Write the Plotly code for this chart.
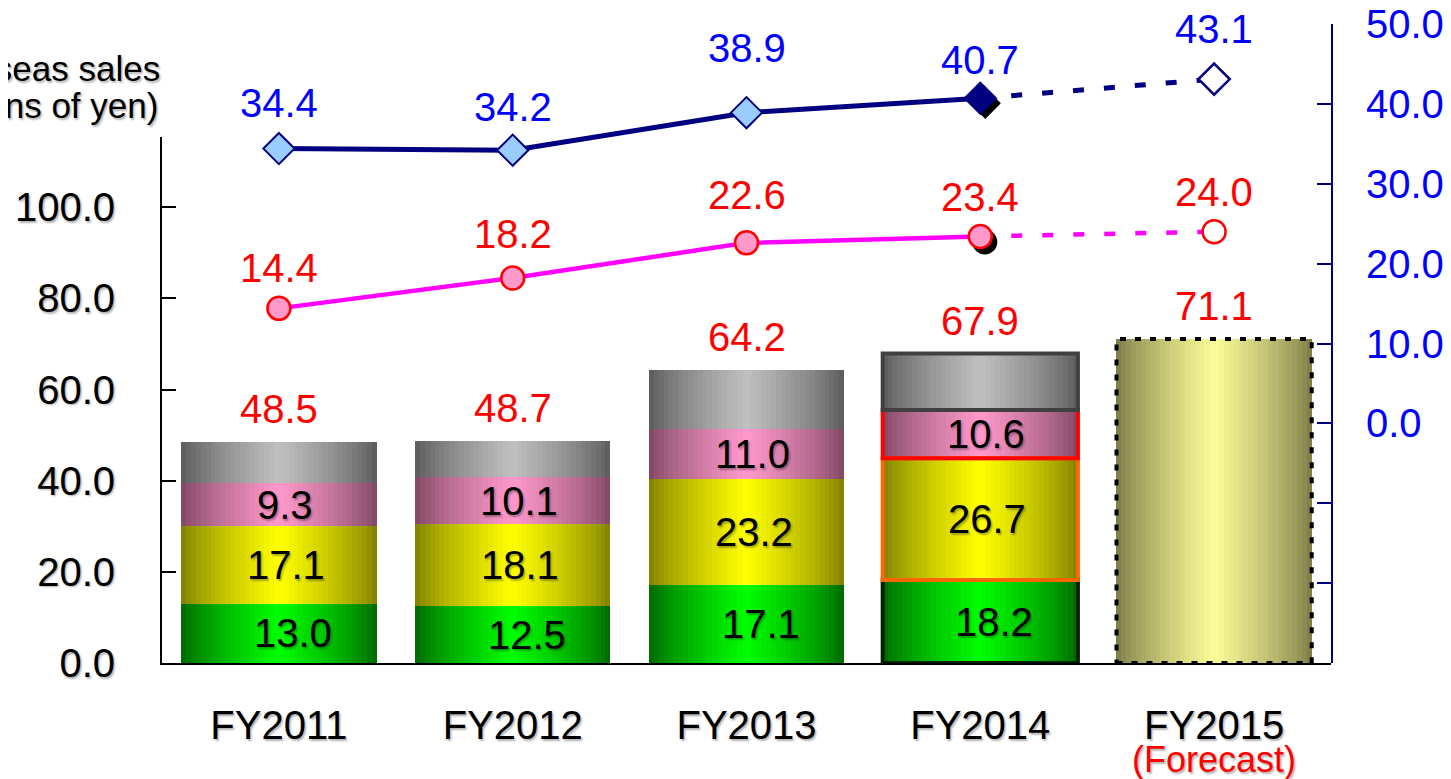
import plotly.graph_objects as go

# ── Data ──────────────────────────────────────────────────────────────────────
categories = ['FY2011', 'FY2012', 'FY2013', 'FY2014', 'FY2015']

seg_green = [13.0, 12.5, 17.1, 18.2]
seg_yellow = [17.1, 18.1, 23.2, 26.7]
seg_pink = [9.3, 10.1, 11.0, 10.6]
seg_other = [9.1, 8.0, 12.9, 12.4]
totals = [48.5, 48.7, 64.2, 67.9, 71.1]

line_navy = [34.4, 34.2, 38.9, 40.7, 43.1]
line_pink = [14.4, 18.2, 22.6, 23.4, 24.0]

# ── Styling ───────────────────────────────────────────────────────────────────
FONT = 'Liberation Sans, Arial, sans-serif'
SHADOW = '1.5px 1.5px 2px rgba(0,0,0,0.3)'
NAVY = '#000080'
BAR_W = 0.835
N_STRIPS = 40

# ( edge colour, centre colour ) for the horizontal gradients
GRAD_GREEN = ((0, 100, 0), (0, 255, 0))
GRAD_YELLOW = ((125, 125, 0), (255, 255, 0))
GRAD_PINK = ((125, 70, 95), (255, 153, 204))
GRAD_GRAY = ((88, 88, 88), (192, 192, 192))
GRAD_FCST = ((120, 120, 70), (252, 252, 152))

# label offsets (pixels above the marker)
navy_lab_dy = [46, 43, 65, 38, 50]
pink_lab_dy = [40, 44, 48, 39, 40]


def strip_color(grad, k):
    edge, center = grad
    t = (k + 0.5) / N_STRIPS
    u = (1 - abs(2 * t - 1)) ** 0.75
    c = [round(e + (m - e) * u) for e, m in zip(edge, center)]
    return f'rgb({c[0]},{c[1]},{c[2]})'


def add_gradient_bars(fig, xs, bases, heights, grad):
    sw = BAR_W / N_STRIPS
    for k in range(N_STRIPS):
        fig.add_trace(go.Bar(
            x=xs, y=heights, base=bases,
            width=sw, offset=-BAR_W / 2 + k * sw,
            marker=dict(color=strip_color(grad, k), line_width=0),
            showlegend=False, hoverinfo='skip', yaxis='y',
        ))


fig = go.Figure()

# ── Stacked bars (actuals) ────────────────────────────────────────────────────
idx = list(range(len(seg_green)))
layers = [
    (seg_green, GRAD_GREEN),
    (seg_yellow, GRAD_YELLOW),
    (seg_pink, GRAD_PINK),
    (seg_other, GRAD_GRAY),
]
bottom = [0.0] * len(idx)
layer_bases = []
for vals, grad in layers:
    add_gradient_bars(fig, idx, bottom, vals, grad)
    layer_bases.append(list(bottom))
    bottom = [b + v for b, v in zip(bottom, vals)]

# forecast bar
add_gradient_bars(fig, [4], [0], [totals[4]], GRAD_FCST)

annotations = []
seg_xshift = [14, 7, 6]
for li, (vals, _) in enumerate(layers[:3]):
    for i, v in enumerate(vals):
        annotations.append(dict(
            x=i, y=layer_bases[li][i] + v / 2, xref='x', yref='y',
            text=f'{v:.1f}', showarrow=False, xshift=seg_xshift[li],
            font=dict(size=40, color='black', shadow=SHADOW),
        ))

for i, v in enumerate(totals):
    annotations.append(dict(
        x=i, y=v, xref='x', yref='y', text=f'{v:.1f}', showarrow=False,
        yshift=33, font=dict(size=40, color='red'),
    ))

# ── Lines on the right axis ──────────────────────────────────────────────────
DASH = '11px,20px'
fig.add_trace(go.Scatter(
    x=[3, 4], y=line_navy[3:], mode='lines', yaxis='y2',
    line=dict(color=NAVY, width=5, dash=DASH), showlegend=False, hoverinfo='skip',
))
fig.add_trace(go.Scatter(
    x=[3, 4], y=line_pink[3:], mode='lines', yaxis='y2',
    line=dict(color='#FF00FF', width=4.5, dash=DASH), showlegend=False, hoverinfo='skip',
))
fig.add_trace(go.Scatter(
    x=idx, y=line_navy[:4], mode='lines+markers', yaxis='y2',
    line=dict(color=NAVY, width=5),
    marker=dict(symbol='diamond', size=24,
                color=['#99CCFF', '#99CCFF', '#99CCFF', NAVY],
                line=dict(color=NAVY, width=2)),
    showlegend=False, hoverinfo='skip',
))
fig.add_trace(go.Scatter(
    x=idx, y=line_pink[:4], mode='lines+markers', yaxis='y2',
    line=dict(color='#FF00FF', width=4.5),
    marker=dict(symbol='circle', size=23, color='#FF99CC',
                line=dict(color='#FF0000', width=2.5)),
    showlegend=False, hoverinfo='skip',
))
fig.add_trace(go.Scatter(
    x=[4], y=[line_navy[4]], mode='markers', yaxis='y2',
    marker=dict(symbol='diamond', size=24, color='white',
                line=dict(color=NAVY, width=2.5)),
    showlegend=False, hoverinfo='skip',
))
fig.add_trace(go.Scatter(
    x=[4], y=[line_pink[4]], mode='markers', yaxis='y2',
    marker=dict(symbol='circle', size=23, color='white',
                line=dict(color='#FF0000', width=2.5)),
    showlegend=False, hoverinfo='skip',
))

for i, v in enumerate(line_navy):
    annotations.append(dict(
        x=i, y=v, xref='x', yref='y2', text=f'{v:.1f}', showarrow=False,
        yshift=navy_lab_dy[i], font=dict(size=40, color='#0000FF'),
    ))
for i, v in enumerate(line_pink):
    annotations.append(dict(
        x=i, y=v, xref='x', yref='y2', text=f'{v:.1f}', showarrow=False,
        yshift=pink_lab_dy[i], font=dict(size=40, color='#FF0000'),
    ))

# axis title (partly cut off at the left edge, as in the original)
annotations.append(dict(
    x=0, y=0.931, xref='paper', yref='paper', xanchor='right', yanchor='middle',
    text='Overseas sales', showarrow=False,
    font=dict(size=35, color='black', shadow=SHADOW),
))
annotations.append(dict(
    x=0, y=0.873, xref='paper', yref='paper', xanchor='right', yanchor='middle',
    text='(billions of yen)', showarrow=False, xshift=-2,
    font=dict(size=35, color='black', shadow=SHADOW),
))
annotations.append(dict(
    x=4, y=0, xref='x', yref='paper', yanchor='middle', yshift=-96,
    text='(Forecast)', showarrow=False,
    font=dict(size=36, color='red', shadow=SHADOW),
))

# ── Outlines & marker shadows ─────────────────────────────────────────────────
shapes = []
fy14_lines = ['#002200', '#FF6600', '#FF0000', '#404040']
for li, (vals, _) in enumerate(layers):
    b = layer_bases[li][3]
    shapes.append(dict(
        type='rect', xref='x', yref='y',
        x0=3 - BAR_W / 2, x1=3 + BAR_W / 2, y0=b, y1=b + vals[3],
        line=dict(color=fy14_lines[li], width=4), fillcolor='rgba(0,0,0,0)',
        layer='above',
    ))
shapes.append(dict(
    type='rect', xref='x', yref='y',
    x0=4 - BAR_W / 2, x1=4 + BAR_W / 2, y0=0, y1=totals[4],
    line=dict(color='black', width=4, dash='6px,9px'), fillcolor='rgba(0,0,0,0)',
    layer='above',
))
shapes.append(dict(
    type='path', xref='x', yref='y2', xsizemode='pixel', ysizemode='pixel',
    xanchor=3, yanchor=line_navy[3],
    path='M 5,-20.6 L 20.6,-5 L 5,10.6 L -10.6,-5 Z',
    fillcolor='black', line=dict(width=0), layer='below',
))
shapes.append(dict(
    type='circle', xref='x', yref='y2', xsizemode='pixel', ysizemode='pixel',
    xanchor=3, yanchor=line_pink[3], x0=-8, x1=17, y0=-18, y1=7,
    fillcolor='black', line=dict(width=0), layer='below',
))

# ── Layout ────────────────────────────────────────────────────────────────────
# the page body adds an 8px margin, so the figure is shifted by that much
right_ticks = list(range(-30, 51, 10))
fig.update_layout(
    width=1443, height=771,
    margin=dict(l=154, r=120, t=16, b=116, pad=0, autoexpand=False),
    font=dict(family=FONT, color='black'),
    plot_bgcolor='rgba(0,0,0,0)', paper_bgcolor='white',
    barmode='overlay', bargap=0, showlegend=False, hovermode=False,
    xaxis=dict(
        range=[-0.5, 4.5], tickvals=list(range(5)), ticktext=categories,
        showline=True, linecolor='black', linewidth=2, ticks='',
        showgrid=False, zeroline=False, ticklabelstandoff=26, automargin=False,
        tickfont=dict(size=40, color='black', shadow=SHADOW),
    ),
    yaxis=dict(
        domain=[0, 526 / 639], range=[0, 115.4],
        tickvals=[0, 20, 40, 60, 80, 100], tickformat='.1f',
        ticks='inside', ticklen=14, tickwidth=2, tickcolor='black',
        showline=True, linecolor='black', linewidth=2,
        showgrid=False, zeroline=False, ticklabelstandoff=37, automargin=False,
        tickfont=dict(size=40, color='black', shadow=SHADOW),
    ),
    yaxis2=dict(
        domain=[0, 1], range=[-30, 50], anchor='x', side='right',
        tickvals=right_ticks,
        ticktext=['' if t < 0 else f'{t:.1f}' for t in right_ticks],
        ticks='inside', ticklen=14, tickwidth=2, tickcolor=NAVY,
        showline=True, linecolor=NAVY, linewidth=2,
        showgrid=False, zeroline=False, ticklabelstandoff=25, automargin=False,
        ticklabeloverflow='allow',
        tickfont=dict(size=40, color='#0000FF'),
    ),
    annotations=annotations,
    shapes=shapes,
)

fig.write_html('out.html')
